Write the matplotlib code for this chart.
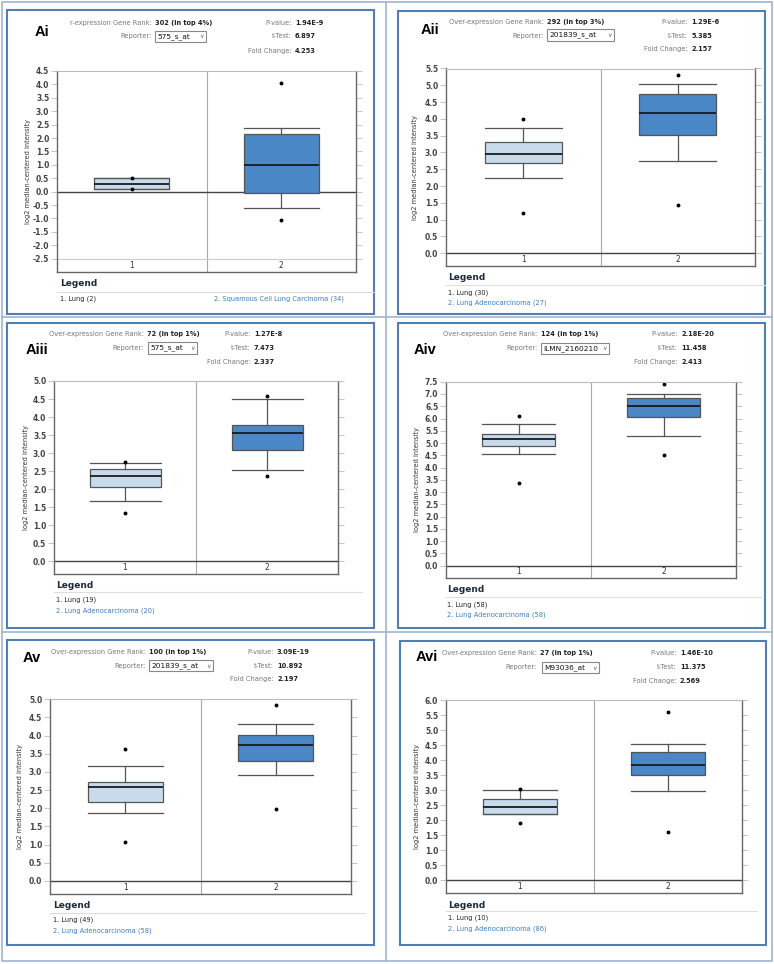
import numpy as np
import matplotlib.pyplot as plt
from matplotlib.patches import Rectangle

# tamaño de la figura en pixeles
W, H = 774, 964

# datos de cada panel (Oncomine)
paneles = ['Ai', 'Aii', 'Aiii', 'Aiv', 'Av', 'Avi']
rank_label = ['r-expression Gene Rank:', 'Over-expression Gene Rank:', 'Over-expression Gene Rank:',
              'Over-expression Gene Rank:', 'Over-expression Gene Rank:', 'Over-expression Gene Rank:']
rank_values = ['302 (in top 4%)', '292 (in top 3%)', '72 (in top 1%)',
               '124 (in top 1%)', '100 (in top 1%)', '27 (in top 1%)']
reporters = ['575_s_at', '201839_s_at', '575_s_at', 'ILMN_2160210', '201839_s_at', 'M93036_at']
p_values = ['1.94E-9', '1.29E-6', '1.27E-8', '2.18E-20', '3.09E-19', '1.46E-10']
t_tests = ['6.897', '5.385', '7.473', '11.458', '10.892', '11.375']
fold_changes = ['4.253', '2.157', '2.337', '2.413', '2.197', '2.569']
normal_name = ['Lung'] * 6
normal_n = [2, 30, 19, 58, 49, 10]
tumor_name = ['Squamous Cell Lung Carcinoma', 'Lung Adenocarcinoma', 'Lung Adenocarcinoma',
              'Lung Adenocarcinoma', 'Lung Adenocarcinoma', 'Lung Adenocarcinoma']
tumor_n = [34, 27, 20, 58, 58, 86]

# rango del eje y
y_max = [4.5, 5.5, 5.0, 7.5, 5.0, 6.0]
y_min = [-2.5, 0.0, 0.0, 0.0, 0.0, 0.0]

# estadisticas de las cajas: grupo 1 (Lung)
normal_lo = [0.10, 2.23, 1.68, 4.54, 1.87, 2.20]
normal_q1 = [0.10, 2.70, 2.05, 4.87, 2.18, 2.21]
normal_med = [0.30, 2.96, 2.36, 5.15, 2.58, 2.45]
normal_q3 = [0.50, 3.30, 2.55, 5.36, 2.73, 2.70]
normal_hi = [0.50, 3.73, 2.73, 5.78, 3.16, 3.02]
normal_fliers = [[0.50, 0.10], [3.99, 1.21], [2.76, 1.33], [6.09, 3.36], [3.64, 1.07], [3.04, 1.92]]

# grupo 2 (carcinoma)
tumor_lo = [-0.60, 2.75, 2.54, 5.30, 2.93, 2.98]
tumor_q1 = [-0.06, 3.53, 3.10, 6.06, 3.31, 3.49]
tumor_med = [0.99, 4.19, 3.56, 6.52, 3.73, 3.85]
tumor_q3 = [2.16, 4.73, 3.79, 6.82, 4.01, 4.26]
tumor_hi = [2.37, 5.03, 4.49, 7.01, 4.33, 4.54]
tumor_fliers = [[4.07, -1.06], [5.30, 1.43], [4.58, 2.36], [7.42, 4.50], [4.84, 1.99], [5.61, 1.60]]

# posiciones en pixeles (layout)
# borde del panel: x0, y0, x1, y1
bordes = [(7, 10, 374, 314), (398, 11, 765, 314), (7, 323, 374, 628),
          (398, 323, 765, 628), (7, 640, 374, 945), (400, 641, 766, 945)]
# ejes: x0, x1, arriba, linea inferior de datos, borde inferior
ejes = [(57, 356, 71, 258.7, 272), (446, 755, 68.5, 253.3, 266), (54, 338, 381, 561.3, 574),
        (446, 736, 381.7, 565.7, 578), (50, 351, 699.3, 881, 894), (446, 742, 700, 880.3, 893.3)]
letra_pos = [(35, 32), (421, 30), (26, 350), (414, 350), (23, 658), (416, 657)]
# encabezado: x del borde derecho de etiquetas, x del p-value, filas y
enc_x = [152, 544, 144, 538, 146, 537]
enc_px = [292, 688, 251, 678, 274, 677]
enc_y = [(22.7, 36, 51), (22, 35.7, 49), (334, 348, 362), (334, 348.3, 361.7),
         (652.3, 665.7, 679.3), (653.3, 667.3, 681)]
dropdown = [(155, 31, 206, 42), (547, 29, 614, 41), (148, 342, 197, 354),
            (541, 343, 609, 354), (149, 660, 213, 671), (542, 662, 599, 673)]
ylabel_x = [28, 415, 26, 417, 20, 417]
# leyenda: x, y titulo, y linea, x fin linea, y item1, y item2
leyenda = [(60, 284, 291.7, 374, 298.7, 298.7), (448, 278, 285, 765, 292.7, 303),
           (56, 586, 591.7, 362, 600, 610.7), (447, 590, 596.7, 761, 604.7, 615),
           (53, 906, 912.7, 365, 920, 930.7), (448, 905.3, 911, 757, 918, 929)]

color_claro = '#c8dbec'
color_oscuro = '#4a87c6'
color_azul_texto = '#3b7fc0'

fig = plt.figure(figsize=(W / 100, H / 100), dpi=100)
fondo = fig.add_axes([0, 0, 1, 1])
fondo.set_xlim(0, W)
fondo.set_ylim(H, 0)
fondo.axis('off')

# marco exterior y divisiones
fondo.add_patch(Rectangle((2, 2), 770, 959, fill=False, edgecolor='#9fb5cf', lw=1.2))
fondo.plot([386, 386], [2, 961], color='#9fb5cf', lw=1.2)
fondo.plot([2, 772], [317, 317], color='#9fb5cf', lw=1.2)
fondo.plot([2, 772], [632, 632], color='#9fb5cf', lw=1.2)

for i in range(6):
    bx0, by0, bx1, by1 = bordes[i]
    fondo.add_patch(Rectangle((bx0, by0), bx1 - bx0, by1 - by0, fill=False,
                              edgecolor='#4f7fb5', lw=1.5))

    # letra del panel
    fondo.text(letra_pos[i][0], letra_pos[i][1], paneles[i], fontsize=10.5, fontweight='bold',
               family='Liberation Sans', ha='left', va='center', color='black')

    # encabezado
    ex = enc_x[i]
    px = enc_px[i]
    y1, y2, y3 = enc_y[i]
    fondo.text(ex, y1, rank_label[i], fontsize=4.8, color='#777', ha='right', va='center')
    fondo.text(ex + 3, y1, rank_values[i], fontsize=4.8, color='#222', fontweight='bold',
               ha='left', va='center')
    fondo.text(ex, y2, 'Reporter:', fontsize=4.8, color='#777', ha='right', va='center')
    dx0, dy0, dx1, dy1 = dropdown[i]
    fondo.add_patch(Rectangle((dx0, dy0), dx1 - dx0, dy1 - dy0, fill=False,
                              edgecolor='#888', lw=0.8))
    fondo.text(dx0 + 2.5, (dy0 + dy1) / 2, reporters[i], fontsize=5.3, color='#111',
               ha='left', va='center')
    fondo.text(dx1 - 4.5, (dy0 + dy1) / 2 + 0.5, '\u2228', fontsize=4.5, color='#666',
               ha='center', va='center')
    fondo.text(px, y1, 'P-value:', fontsize=4.8, color='#777', ha='right', va='center')
    fondo.text(px + 3, y1, p_values[i], fontsize=4.8, color='#222', fontweight='bold',
               ha='left', va='center')
    fondo.text(px, y2, 't-Test:', fontsize=4.8, color='#777', ha='right', va='center')
    fondo.text(px + 3, y2, t_tests[i], fontsize=4.8, color='#222', fontweight='bold',
               ha='left', va='center')
    fondo.text(px, y3, 'Fold Change:', fontsize=4.8, color='#777', ha='right', va='center')
    fondo.text(px + 3, y3, fold_changes[i], fontsize=4.8, color='#222', fontweight='bold',
               ha='left', va='center')

    # eje y etiqueta
    x0, x1, top, db, fb = ejes[i]
    fondo.text(ylabel_x[i], (top + fb) / 2, 'log2 median-centered intensity', fontsize=4.8,
               color='#333', rotation=90, ha='center', va='center')

    # leyenda
    lx, ly, lly, llx1, iy1, iy2 = leyenda[i]
    fondo.text(lx, ly, 'Legend', fontsize=6.5, fontweight='bold', color='#1c2b3a',
               ha='left', va='center')
    fondo.plot([x0, llx1], [lly, lly], color='#dddddd', lw=0.8)
    fondo.text(lx, iy1, '1. ' + normal_name[i] + ' (' + str(normal_n[i]) + ')', fontsize=4.8,
               color='#222', ha='left', va='center')
    if i == 0:
        item2_x = 214
    else:
        item2_x = lx
    fondo.text(item2_x, iy2, '2. ' + tumor_name[i] + ' (' + str(tumor_n[i]) + ')', fontsize=4.8,
               color=color_azul_texto, ha='left', va='center')

    # grafica de cajas
    ax = fig.add_axes([x0 / W, 1 - fb / H, (x1 - x0) / W, (fb - top) / H])
    ppu = (db - top) / (y_max[i] - y_min[i])
    ymin = y_min[i] - (fb - db) / ppu
    stats = [dict(med=normal_med[i], q1=normal_q1[i], q3=normal_q3[i],
                  whislo=normal_lo[i], whishi=normal_hi[i], fliers=normal_fliers[i]),
             dict(med=tumor_med[i], q1=tumor_q1[i], q3=tumor_q3[i],
                  whislo=tumor_lo[i], whishi=tumor_hi[i], fliers=tumor_fliers[i])]
    res = ax.bxp(stats, positions=[1, 2], widths=0.5, capwidths=0.5, patch_artist=True,
                 boxprops=dict(edgecolor='#555', lw=0.9),
                 medianprops=dict(color='#1a1a1a', lw=1.3),
                 whiskerprops=dict(color='#555', lw=0.9),
                 capprops=dict(color='#555', lw=0.9),
                 flierprops=dict(marker='o', markersize=1.8, markerfacecolor='black',
                                 markeredgecolor='black'))
    res['boxes'][0].set_facecolor(color_claro)
    res['boxes'][1].set_facecolor(color_oscuro)

    ax.set_xlim(0.5, 2.5)
    ax.set_ylim(ymin, y_max[i])
    ax.axvline(1.5, color='#aaaaaa', lw=0.8, zorder=0)
    if y_min[i] != 0:
        ax.axhline(y_min[i], color='#cccccc', lw=0.8, zorder=0)
    ax.axhline(0, color='#444444', lw=1, zorder=1)

    ticks = np.arange(y_min[i], y_max[i] + 0.01, 0.5)
    ax.set_yticks(ticks)
    ax.set_yticklabels([f'{t:.1f}' for t in ticks])
    for lbl in ax.get_yticklabels():
        lbl.set_fontweight('bold')
    ax.set_xticks([])
    ax.tick_params(axis='y', left=True, right=True, direction='out', length=4, width=0.6,
                   color='#bbbbbb', labelsize=5.5, labelcolor='#444444', pad=1.5)

    for s in ['left', 'right', 'bottom']:
        ax.spines[s].set_color('#666666')
        ax.spines[s].set_linewidth(1)
    ax.spines['top'].set_color('#bbbbbb')
    ax.spines['top'].set_linewidth(0.8)

    # etiquetas de categoria en la banda inferior
    ycat = ymin + (y_min[i] - ymin) / 2
    ax.text(1, ycat, '1', fontsize=5.5, color='#333', ha='center', va='center')
    ax.text(2, ycat, '2', fontsize=5.5, color='#333', ha='center', va='center')

fig.savefig('out.png', dpi=100)
